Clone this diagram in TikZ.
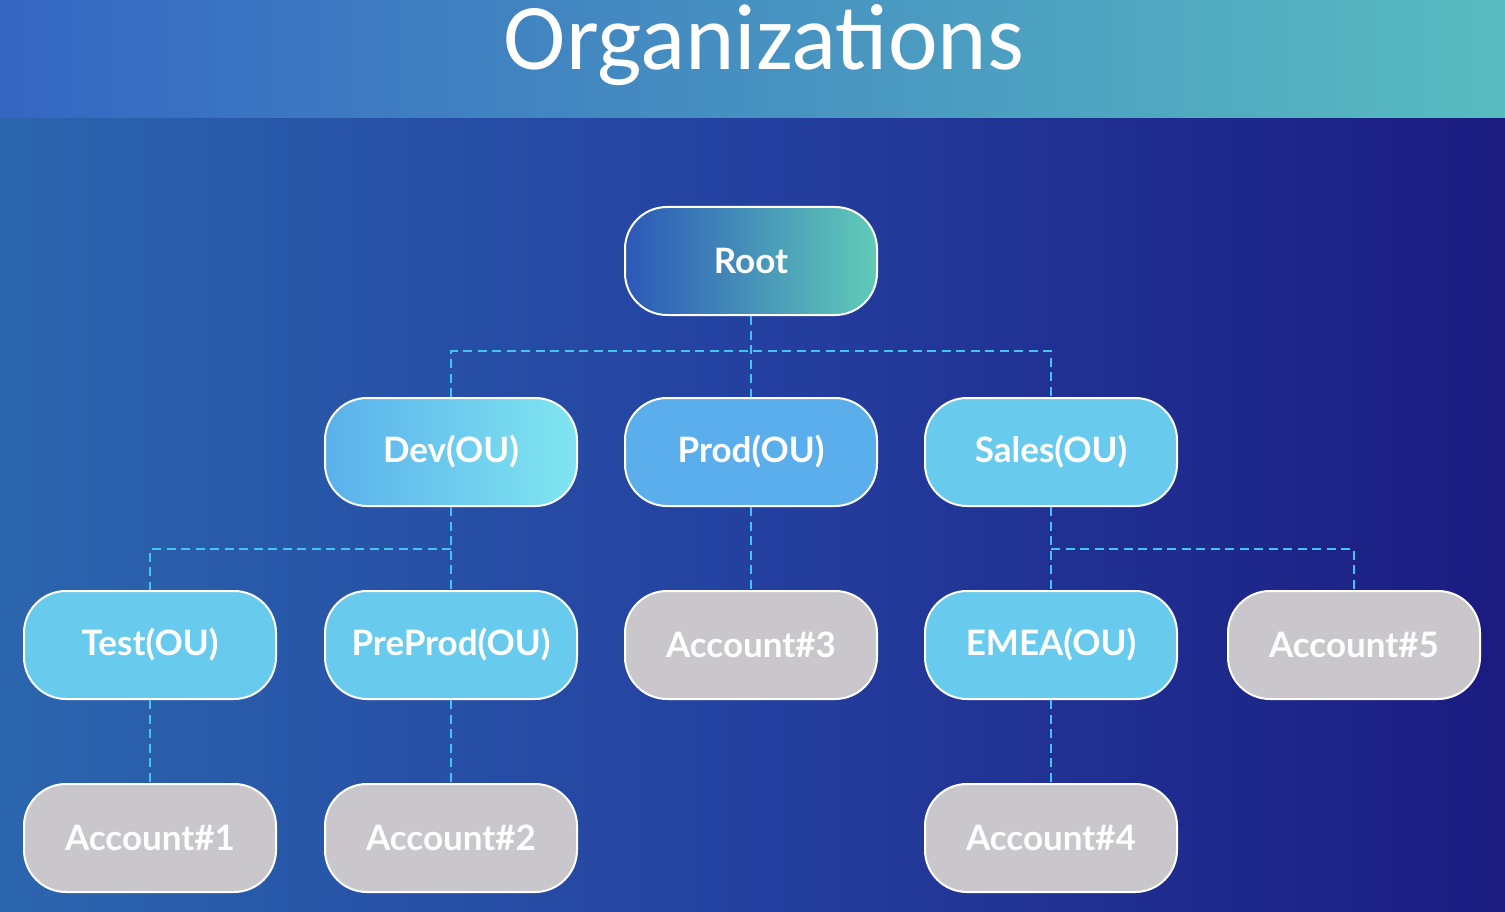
\documentclass[tikz,border=0pt]{standalone}
\usepackage{fontspec}
\setmainfont{Lato}
\newfontfamily\titlefont{Carlito}
\newfontfamily\nodefont{Lato}
\definecolor{bgL}{HTML}{2B66AE}
\definecolor{bgM}{HTML}{2440A0}
\definecolor{bgR}{HTML}{1B1B80}
\definecolor{hdL}{HTML}{3566C2}
\definecolor{hdR}{HTML}{58BCC0}
\definecolor{ouL}{HTML}{5AB0EC}
\definecolor{ouR}{HTML}{80E6F0}
\definecolor{prod}{HTML}{5AAEEB}
\definecolor{ou}{HTML}{68CBEE}
\definecolor{acct}{HTML}{C9C7CB}
\definecolor{rootL}{HTML}{2C58B8}
\definecolor{rootR}{HTML}{60CCB8}
\definecolor{link}{HTML}{45C4EE}
\tikzset{
  box/.style={draw=white, line width=2pt, rounded corners=42pt, minimum width=252pt, minimum height=108pt, inner sep=0pt, text=white, font=\nodefont\bfseries\fontsize{35}{35}\selectfont},
  oubox/.style={box, fill=ou},
  acctbox/.style={box, fill=acct},
  link/.style={draw=link, line width=2.6pt, dash pattern=on 9pt off 5.5pt}
}
\begin{document}
\begin{tikzpicture}[x=1pt,y=-1pt]
\useasboundingbox (0,0) rectangle (1505,912);
\shade[left color=bgL, right color=bgR, middle color=bgM] (0,118) rectangle (1505,912);
\shade[left color=hdL, right color=hdR] (0,0) rectangle (1505,118);
\node[anchor=base, text=white, font=\titlefont\fontsize{94}{94}\selectfont, inner sep=0pt] (title) at (764,70) {Organizations};

\node[box, left color=rootL, right color=rootR] (root) at (751,261) {Root};
\node[box, left color=ouL, right color=ouR] (dev) at (451,452) {Dev(OU)};
\node[box, fill=prod] (prod) at (751,452) {Prod(OU)};
\node[oubox] (sales) at (1051,452) {Sales(OU)};
\node[oubox] (test) at (150,645) {Test(OU)};
\node[oubox] (preprod) at (451,645) {PreProd(OU)};
\node[acctbox] (a3) at (751,645) {Account\#3};
\node[oubox] (emea) at (1051,645) {EMEA(OU)};
\node[acctbox] (a5) at (1354,645) {Account\#5};
\node[acctbox] (a1) at (150,838) {Account\#1};
\node[acctbox] (a2) at (451,838) {Account\#2};
\node[acctbox] (a4) at (1051,838) {Account\#4};

\coordinate (j1) at (751,351);
\coordinate (j2) at (451,549);
\coordinate (j3) at (1051,549);

\draw[link] (root.south) -- (prod.north);
\draw[link] (dev.north) |- (j1) -| (sales.north);
\draw[link] (dev.south) -- (preprod.north);
\draw[link] (j2) -| (test.north);
\draw[link] (prod.south) -- (a3.north);
\draw[link] (sales.south) -- (emea.north);
\draw[link] (j3) -| (a5.north);
\draw[link] (test.south) -- (a1.north);
\draw[link] (preprod.south) -- (a2.north);
\draw[link] (emea.south) -- (a4.north);
\end{tikzpicture}
\end{document}
